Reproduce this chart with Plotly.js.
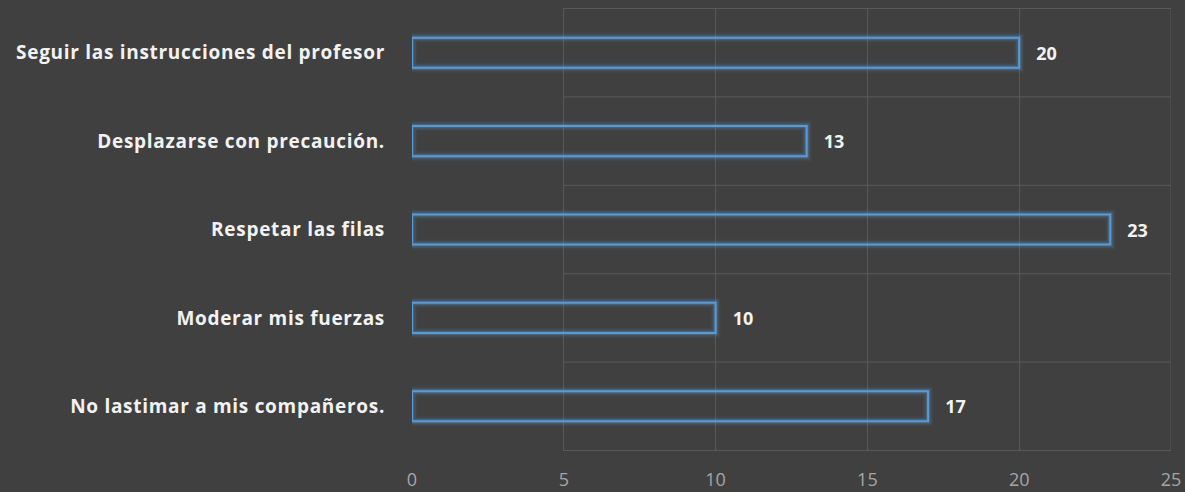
<!DOCTYPE html>
<html><head><meta charset="utf-8">
<script src="https://cdn.plot.ly/plotly-3.0.1.min.js"></script>
<style>html,body{margin:0;padding:0;background:#404040;}#chart{width:1185px;height:492px;}
.ytick text{letter-spacing:0.7px;}
</style>
</head><body><div id="chart"></div>
<script>
const categories = ["Seguir las instrucciones del profesor", "Desplazarse con precaución.", "Respetar las filas", "Moderar mis fuerzas", "No lastimar a mis compañeros."];
const values = [20, 13, 23, 10, 17];
const xTicks = [0, 5, 10, 15, 20, 25];

const glowLayers = [
  {w: 10, c: 'rgba(91,155,213,0.07)'},
  {w: 7, c: 'rgba(91,155,213,0.12)'},
  {w: 4.5, c: 'rgba(91,155,213,0.22)'}
];
const traces = glowLayers.map(g => ({
  type: 'bar', orientation: 'h', x: values, y: categories, width: 0.34,
  marker: {color: 'rgba(0,0,0,0)', line: {color: g.c, width: g.w}},
  hoverinfo: 'skip', showlegend: false
}));
traces.push({
  type: 'bar', orientation: 'h', x: values, y: categories, width: 0.34,
  marker: {color: 'rgba(0,0,0,0)', line: {color: '#5b9bd5', width: 2}},
  texttemplate: '   %{x}', textposition: 'outside', cliponaxis: false,
  textfont: {family: 'Open Sans, sans-serif', size: 18, color: '#f2f2f2', weight: 'bold'},
  showlegend: false
});

// horizontal separators at category boundaries (drawn from x=5 like the reference)
const sepShapes = [];
for (let i = 0; i <= categories.length; i++) {
  sepShapes.push({type: 'line', xref: 'x', yref: 'y', x0: xTicks[1], x1: xTicks[xTicks.length - 1],
    y0: i - 0.5, y1: i - 0.5, line: {color: '#595959', width: 1}, layer: 'below'});
}
sepShapes.push({type: 'line', xref: 'x', yref: 'paper', x0: xTicks[xTicks.length - 1], x1: xTicks[xTicks.length - 1],
  y0: 0, y1: 1, line: {color: '#595959', width: 1}, layer: 'below'});

Plotly.newPlot('chart', traces, {
  width: 1185, height: 492,
  paper_bgcolor: '#404040', plot_bgcolor: '#404040',
  barmode: 'overlay',
  margin: {l: 412, r: 14, t: 8, b: 41},
  font: {family: 'Open Sans, sans-serif'},
  xaxis: {range: [0, 25], tickvals: xTicks, showgrid: true, gridcolor: '#595959', gridwidth: 1,
    zeroline: true, zerolinecolor: '#404040', zerolinewidth: 2, showline: false, ticks: '',
    ticklabelstandoff: 16, tickfont: {size: 18, color: '#a6a6a6'}, fixedrange: true},
  yaxis: {type: 'category', autorange: 'reversed', showgrid: false,
    ticks: '', ticklen: 0, showline: false, ticklabelstandoff: 26,
    tickfont: {size: 19, color: '#f2f2f2', weight: 'bold'}, fixedrange: true},
  shapes: sepShapes
}, {displayModeBar: false, staticPlot: true});
</script></body></html>
